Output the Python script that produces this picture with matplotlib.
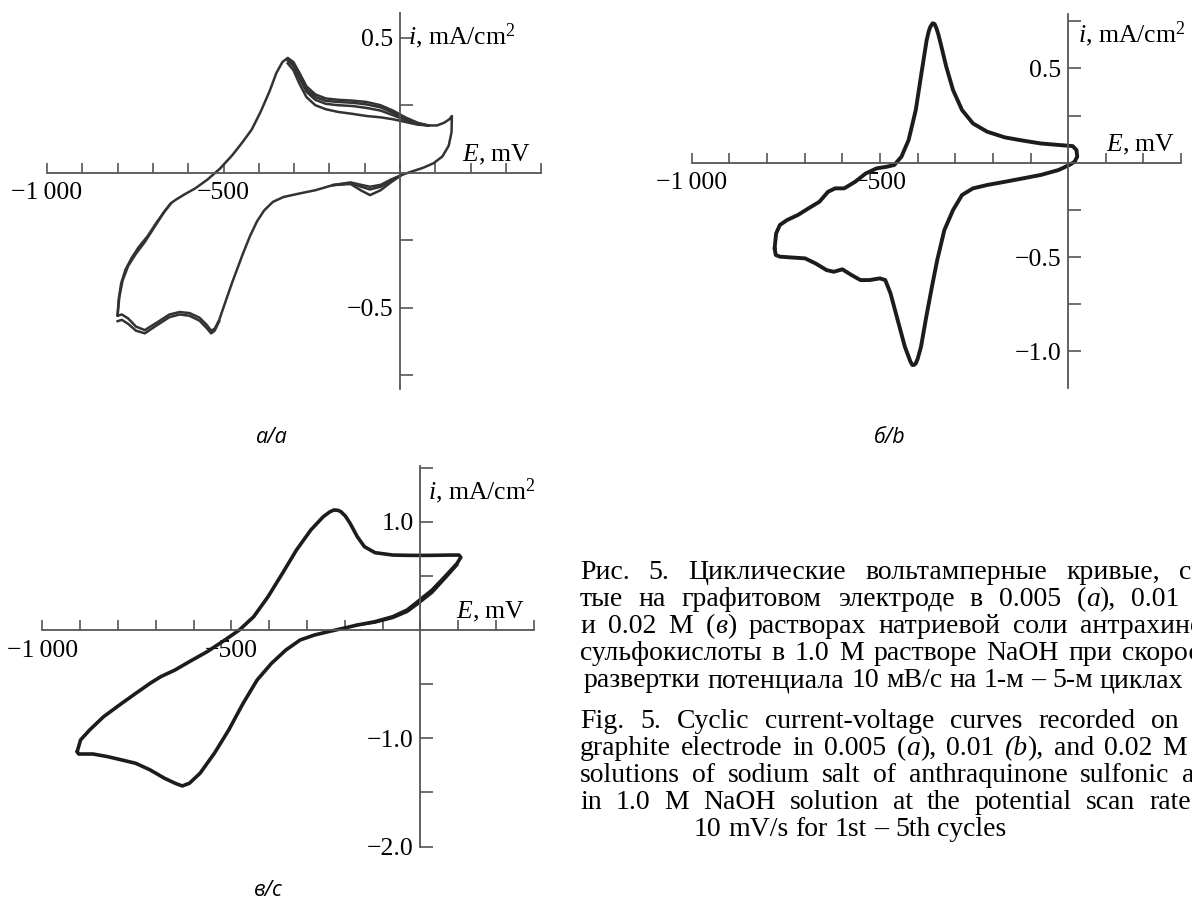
import matplotlib
matplotlib.use("Agg")
import matplotlib.pyplot as plt
import numpy as np

plt.rcParams["font.family"] = ["Liberation Serif", "DejaVu Serif"]
plt.rcParams["mathtext.fontset"] = "custom"
plt.rcParams["mathtext.rm"] = "Liberation Serif"
plt.rcParams["mathtext.it"] = "Liberation Serif:italic"

# ---- panel a: 0.005 M, cycles 1-5 ----
a_E_an = [-800, -797, -790, -778, -760, -740, -715, -690, -665, -648, -635, -610, -580,
          -545, -510, -475, -445, -420, -395, -370, -350, -333, -318, -302, -285, -265,
          -240, -210, -175, -135, -95, -55, -20, 15, 50, 80, 105, 125, 140, 147]
a_i_an = [-0.53, -0.47, -0.41, -0.36, -0.315, -0.275, -0.235, -0.185, -0.14, -0.112,
          -0.100, -0.080, -0.058, -0.025, 0.015, 0.065, 0.115, 0.16, 0.225, 0.30, 0.37,
          0.41, 0.425, 0.41, 0.37, 0.32, 0.29, 0.275, 0.27, 0.267, 0.262, 0.25, 0.23,
          0.205, 0.185, 0.175, 0.175, 0.185, 0.198, 0.21]
a_E_cat = [147, 146, 138, 120, 95, 65, 35, 5, -25, -55, -85, -110, -140, -190, -240,
           -285, -330, -360, -385, -405, -425, -445, -475, -495, -512, -525, -535, -548,
           -568, -596, -624, -653, -690, -723, -748, -770, -788, -800]
a_i_cat = [0.21, 0.15, 0.10, 0.06, 0.035, 0.018, 0.005, -0.008, -0.025, -0.045, -0.052,
           -0.045, -0.036, -0.046, -0.065, -0.077, -0.09, -0.108, -0.14, -0.18, -0.235,
           -0.30, -0.405, -0.48, -0.545, -0.578, -0.585, -0.563, -0.537, -0.52, -0.516,
           -0.525, -0.556, -0.583, -0.57, -0.54, -0.525, -0.53]
# cycle-to-cycle spread after the anodic peak
a_E_plateau = [-318, -302, -285, -265, -240, -210, -175, -135, -95, -55, -20, 15, 50, 80]
a_i_plateau = [
    [0.42, 0.40, 0.36, 0.31, 0.28, 0.266, 0.262, 0.259, 0.253, 0.242, 0.222, 0.20, 0.182, 0.175],
    [0.415, 0.395, 0.35, 0.30, 0.27, 0.255, 0.25, 0.247, 0.24, 0.23, 0.213, 0.195, 0.18, 0.175],
    [0.405, 0.38, 0.33, 0.28, 0.25, 0.235, 0.225, 0.218, 0.21, 0.205, 0.198, 0.188, 0.178, 0.175],
]
# small cathodic wave near -80 mV
a_E_dip = [5, -25, -55, -85, -110, -140, -190]
a_i_dip = [
    [-0.008, -0.035, -0.065, -0.083, -0.066, -0.042, -0.046],
    [-0.008, -0.030, -0.052, -0.062, -0.052, -0.038, -0.046],
]
a_E_low = [-512, -525, -535, -548, -568, -596, -624, -653, -690, -723, -748, -770, -788, -800]
a_i_low = [-0.55, -0.585, -0.595, -0.575, -0.548, -0.53, -0.525, -0.535, -0.566, -0.595,
           -0.585, -0.56, -0.545, -0.55]
a_E_left = [-800, -795, -786, -770, -748, -722, -695, -668, -650]
a_i_left = [-0.525, -0.46, -0.40, -0.345, -0.30, -0.255, -0.20, -0.145, -0.115]

# ---- panel b: 0.01 M ----
b_E_an = [-780, -776, -766, -747, -718, -690, -661, -638, -619, -595, -566, -538, -509,
          -481, -462, -443, -424, -405, -390, -376, -370, -366, -360, -355, -350, -345,
          -339, -324, -306, -282, -253, -215, -168, -120, -73, -26, 12, 22, 24]
b_i_an = [-0.454, -0.375, -0.330, -0.304, -0.277, -0.242, -0.207, -0.154, -0.136, -0.136,
          -0.101, -0.057, -0.030, -0.021, -0.012, 0.032, 0.120, 0.279, 0.473, 0.650,
          0.70, 0.721, 0.739, 0.735, 0.712, 0.68, 0.633, 0.509, 0.385, 0.279, 0.208,
          0.164, 0.134, 0.117, 0.102, 0.094, 0.088, 0.067, 0.032]
b_E_cat = [24, 17, 3, -26, -73, -120, -168, -215, -253, -282, -306, -329, -348, -362,
           -377, -391, -400, -405, -410, -414, -419, -434, -453, -472, -486, -500, -528,
           -552, -576, -600, -623, -642, -671, -699, -737, -766, -777, -780]
b_i_cat = [0.032, 0.005, -0.012, -0.039, -0.065, -0.083, -0.101, -0.118, -0.136, -0.171,
           -0.251, -0.357, -0.516, -0.657, -0.816, -0.975, -1.04, -1.064, -1.072, -1.072,
           -1.055, -0.975, -0.834, -0.693, -0.622, -0.613, -0.622, -0.622, -0.595, -0.565,
           -0.578, -0.569, -0.534, -0.507, -0.502, -0.498, -0.489, -0.454]

# ---- panel c: 0.02 M ----
c_E_an = [-908, -899, -875, -838, -790, -753, -715, -687, -649, -611, -564, -517, -479,
          -441, -403, -365, -328, -290, -257, -240, -229, -218, -210, -198, -186, -167,
          -148, -120, -73, -25, 22, 78, 102, 107]
c_i_an = [-1.123, -1.015, -0.923, -0.800, -0.677, -0.585, -0.492, -0.431, -0.369, -0.292,
          -0.200, -0.092, 0.0, 0.123, 0.308, 0.523, 0.738, 0.923, 1.046, 1.09, 1.108,
          1.105, 1.092, 1.05, 0.985, 0.862, 0.769, 0.714, 0.692, 0.689, 0.689, 0.692,
          0.692, 0.671]
c_E_cat = [107, 97, 69, 31, -7, -35, -73, -120, -167, -205, -243, -280, -318, -356, -394,
           -432, -469, -507, -545, -583, -611, -630, -649, -677, -715, -753, -790, -828,
           -866, -904, -908]
c_i_cat = [0.671, 0.615, 0.508, 0.369, 0.262, 0.185, 0.123, 0.077, 0.046, 0.015, -0.015,
           -0.046, -0.092, -0.185, -0.308, -0.462, -0.677, -0.923, -1.138, -1.323, -1.415,
           -1.440, -1.415, -1.369, -1.292, -1.231, -1.200, -1.169, -1.145, -1.145, -1.123]
c_E_band = [97, 69, 31, -7, -35, -73, -120, -167]
c_i_band = [0.60, 0.49, 0.345, 0.24, 0.168, 0.112, 0.07, 0.046]

# axis ticks and labels
a_xticks = list(range(-1000, 401, 100))
bc_xticks = list(range(-1000, 301, 100))
x_labels = {-1000: "\u22121\u2009000", -500: "\u2212500"}
a_yticks = [-0.75, -0.5, -0.25, 0.25, 0.5]
a_ylabels = {0.5: "0.5", -0.5: "\u22120.5"}
b_yticks = [-1.0, -0.75, -0.5, -0.25, 0.25, 0.5, 0.75]
b_ylabels = {0.5: "0.5", -0.5: "\u22120.5", -1.0: "\u22121.0"}
c_yticks = [-2.0, -1.5, -1.0, -0.5, 0.5, 1.0, 1.5]
c_ylabels = {1.0: "1.0", -1.0: "\u22121.0", -2.0: "\u22122.0"}

cap_ru = [
    "Рис. 5. Циклические вольтамперные кривые, сня-",
    "тые на графитовом электроде в 0.005 (_а_), 0.01 (_б_)",
    "и 0.02 М (_в_) растворах натриевой соли антрахинон-",
    "сульфокислоты в 1.0 М растворе NaOH при скорости",
    "развертки потенциала 10 мВ/с на 1-м – 5-м циклах",
]
cap_en = [
    "Fig. 5. Cyclic current-voltage curves recorded on the",
    "graphite electrode in 0.005 (_a_), 0.01 _(b_), and 0.02 M (_c_)",
    "solutions of sodium salt of anthraquinone sulfonic acid",
    "in 1.0 M NaOH solution at the potential scan rate of",
    "10 mV/s for 1st – 5th cycles",
]

W, H = 1192, 905
fig = plt.figure(figsize=(W / 100, H / 100), dpi=100)
AX_COL = "#555555"
FS = 18.5


def panel(x_zero, y_zero, sx, sy, xlim, ylim, xbounds, ybounds,
          xticks, yticks, ylabels):
    """Axes placed so that E=0, i=0 sits at (x_zero, y_zero) pixels."""
    left = x_zero + sx * xlim[0]
    right = x_zero + sx * xlim[1]
    top = y_zero - sy * ylim[1]
    bottom = y_zero - sy * ylim[0]
    ax = fig.add_axes([left / W, 1 - bottom / H, (right - left) / W, (bottom - top) / H])
    ax.set_xlim(xlim)
    ax.set_ylim(ylim)
    ax.patch.set_alpha(0)
    for s in ("top", "right"):
        ax.spines[s].set_visible(False)
    for s in ("bottom", "left"):
        ax.spines[s].set_position(("data", 0))
        ax.spines[s].set_color(AX_COL)
        ax.spines[s].set_linewidth(1.3)
    ax.spines["bottom"].set_bounds(*xbounds)
    ax.spines["left"].set_bounds(*ybounds)
    ax.set_xticks(xticks)
    ax.set_xticklabels([x_labels.get(v, "") for v in xticks])
    ax.set_yticks(yticks)
    ax.set_yticklabels([ylabels.get(v, "") for v in yticks])
    ax.tick_params(axis="x", direction="in", length=7, width=1.2, color=AX_COL,
                   labelsize=FS, pad=7)
    ax.tick_params(axis="y", direction="in", length=9, width=1.2, color=AX_COL,
                   labelsize=FS, pad=5)
    return ax


def axis_titles(ax, x_end, e_off, i_off):
    ax.annotate("$E$, mV", xy=(x_end, 0), xytext=e_off, textcoords="offset pixels",
                ha="right", va="baseline", fontsize=FS)
    ax.annotate("$i$, mA/cm$^2$", xy=(0, 0), xytext=i_off, textcoords="offset pixels",
                ha="left", va="baseline", fontsize=FS)


def loop(ax, E1, i1, E2, i2, **kw):
    ax.plot(np.concatenate([E1, E2]), np.concatenate([i1, i2]), clip_on=False,
            solid_capstyle="round", **kw)


# panel a
ax_a = panel(400, 172.7, 0.353, 270, (-1100, 450), (-0.85, 0.62), (-1000, 400),
             (-0.80, 0.59), a_xticks, a_yticks, a_ylabels)
line_a = dict(color="#333333", lw=1.8, solid_joinstyle="round")
loop(ax_a, a_E_an, a_i_an, a_E_cat, a_i_cat, **line_a)
for vals in a_i_plateau:
    ax_a.plot(a_E_plateau, vals, **line_a)
for vals in a_i_dip:
    ax_a.plot(a_E_dip, vals, **line_a)
ax_a.plot(a_E_low, a_i_low, **line_a)
ax_a.plot(a_E_left, a_i_left, **line_a)
axis_titles(ax_a, 400, (-10, 11), (8, 128))

# panel b
ax_b = panel(1068.2, 162.7, 0.3764, 188.7, (-1100, 330), (-1.25, 0.84), (-1000, 300),
             (-1.196, 0.79), bc_xticks, b_yticks, b_ylabels)
loop(ax_b, b_E_an, b_i_an, b_E_cat, b_i_cat, color="#1c1c1c", lw=2.8,
     solid_joinstyle="round")
axis_titles(ax_b, 300, (-6, 11), (10, 120))

# panel c
ax_c = panel(420.4, 630, 0.378, 108.3, (-1100, 330), (-2.1, 1.6), (-1000, 300),
             (-2.0, 1.51), bc_xticks, c_yticks, c_ylabels)
loop(ax_c, c_E_an, c_i_an, c_E_cat, c_i_cat, color="#1c1c1c", lw=2.6,
     solid_joinstyle="round")
ax_c.plot(c_E_band, c_i_band, color="#1c1c1c", lw=2.0, solid_joinstyle="round")
axis_titles(ax_c, 300, (-9, 12), (8, 131))

# panel letters
for x, y, s in [(272, 437, "а/a"), (890, 437, "б/b"), (268, 890, "в/c")]:
    fig.text(x / W, 1 - y / H, s, family=["Open Sans", "Noto Sans", "DejaVu Sans"],
             style="italic", fontsize=15.5, ha="center", va="center")

# caption, justified lines running past the right edge
CAP_FS = 20
renderer = fig.canvas.get_renderer()


def make_word(word):
    parts = []
    for k, piece in enumerate(word.split("_")):
        if piece:
            t = fig.text(0, 0, piece, fontsize=CAP_FS, style="italic" if k % 2 else "normal",
                         ha="left", va="baseline")
            parts.append((t, t.get_window_extent(renderer).width))
    return parts


def caption_line(text, y, x0, x1=None, center=None):
    words = [make_word(w) for w in text.split(" ")]
    widths = [sum(w for _, w in parts) for parts in words]
    probe_a = fig.text(0, 0, "a a", fontsize=CAP_FS)
    probe_b = fig.text(0, 0, "aa", fontsize=CAP_FS)
    space = probe_a.get_window_extent(renderer).width - probe_b.get_window_extent(renderer).width
    probe_a.remove()
    probe_b.remove()
    natural = sum(widths) + space * (len(words) - 1)
    gap = space
    if x1 is not None and len(words) > 1:
        gap = max(space, (x1 - x0 - sum(widths)) / (len(words) - 1))
    x = x0
    if center is not None:
        x = center - natural / 2
    for parts, w in zip(words, widths):
        xx = x
        for t, pw in parts:
            t.set_position((xx / W, 1 - y / H))
            xx += pw
        x += w + gap


RIGHT = 1228
for k, line in enumerate(cap_ru):
    caption_line(line, 579 + 27 * k, 580 if k < 4 else 584, RIGHT if k < 4 else None)
for k, line in enumerate(cap_en):
    if k < 4:
        caption_line(line, 728 + 27 * k, 580, RIGHT)
    else:
        caption_line(line, 728 + 27 * k, 580, center=850)

fig.savefig("out.png", dpi=100)
